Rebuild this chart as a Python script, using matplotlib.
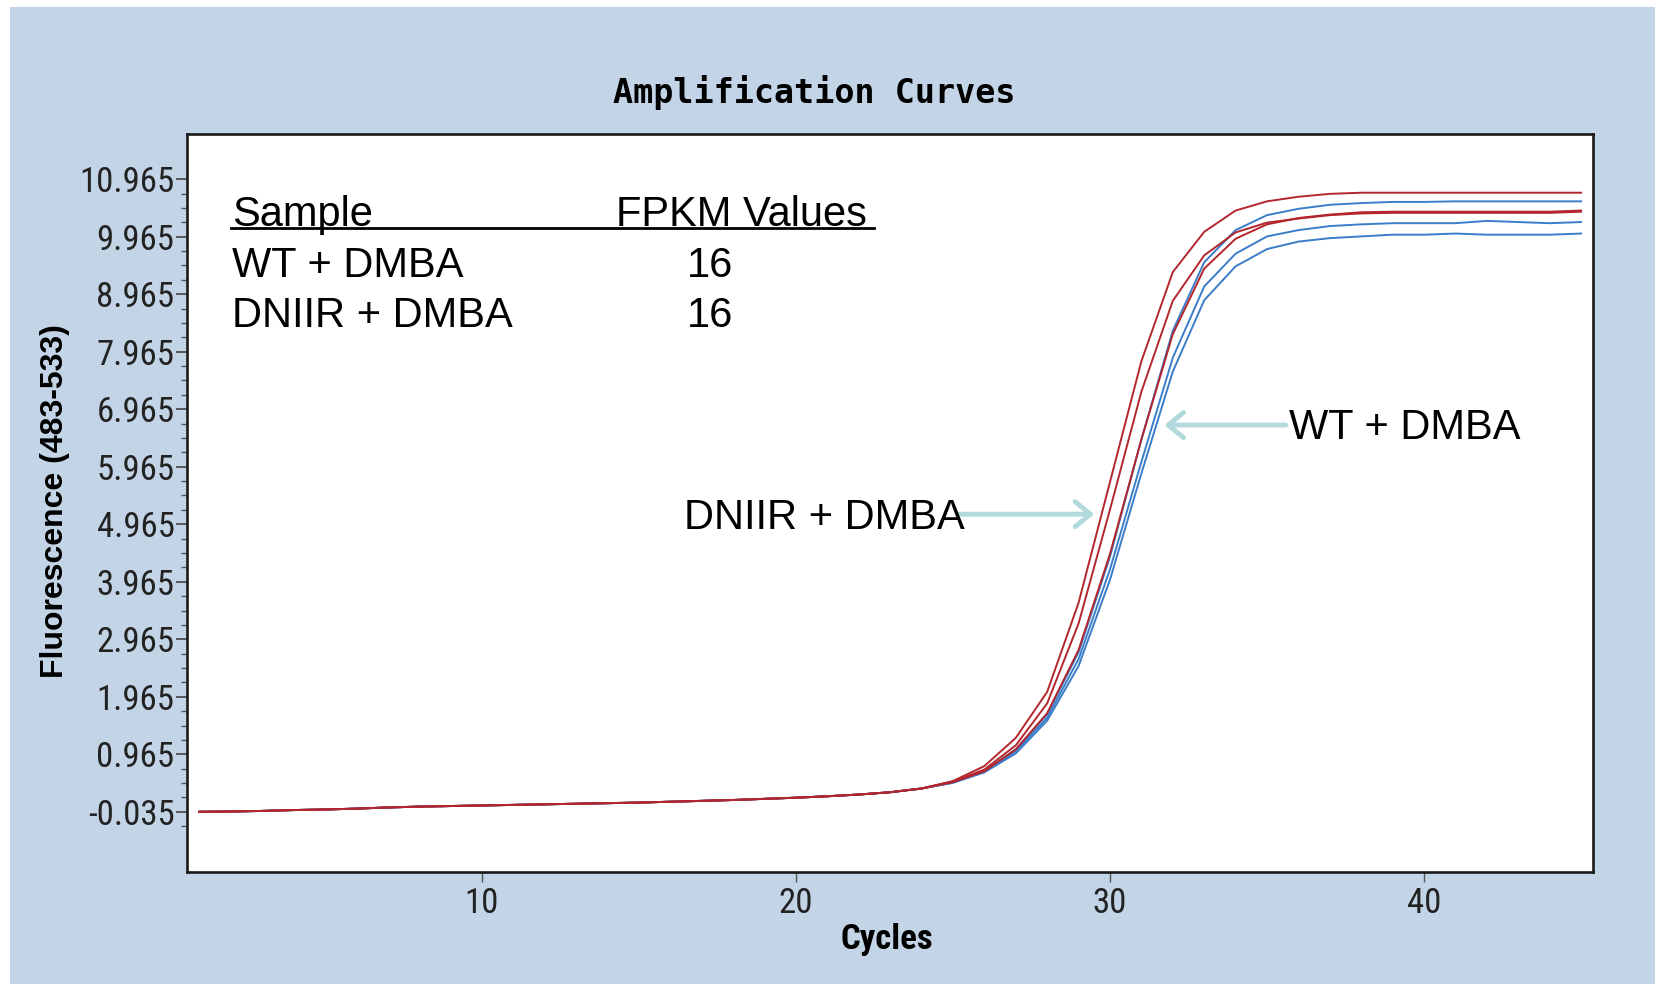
import numpy as np
import matplotlib
matplotlib.use("Agg")
import matplotlib.pyplot as plt
from matplotlib.patches import Rectangle
from matplotlib.lines import Line2D
from matplotlib.ticker import FixedLocator, FormatStrFormatter
from matplotlib import font_manager

# cycle numbers and the shared flat baseline (cycles 1-24)
cycles = np.arange(1, 46)
baseline = [-0.035, -0.030, -0.020, -0.005, 0.005, 0.020, 0.040, 0.055,
            0.065, 0.075, 0.085, 0.095, 0.105, 0.115, 0.125, 0.140,
            0.155, 0.170, 0.190, 0.210, 0.235, 0.265, 0.305, 0.370]

# rise + plateau, cycles 25-45
dniir_1 = [0.50, 0.76, 1.25, 2.05, 3.60, 5.70, 7.80, 9.35, 10.05, 10.42, 10.58,
           10.66, 10.71, 10.73, 10.73, 10.73, 10.73, 10.73, 10.73, 10.73, 10.73]
dniir_2 = [0.49, 0.70, 1.12, 1.85, 3.24, 5.22, 7.27, 8.85, 9.64, 10.04, 10.21,
           10.28, 10.34, 10.37, 10.38, 10.38, 10.38, 10.38, 10.38, 10.38, 10.40]
dniir_3 = [0.48, 0.67, 1.05, 1.68, 2.78, 4.45, 6.44, 8.27, 9.41, 9.93, 10.18,
           10.29, 10.35, 10.39, 10.40, 10.40, 10.40, 10.40, 10.40, 10.40, 10.42]
wt_1 = [0.48, 0.67, 1.05, 1.66, 2.74, 4.40, 6.44, 8.33, 9.52, 10.08, 10.34,
        10.45, 10.52, 10.55, 10.57, 10.57, 10.58, 10.58, 10.58, 10.58, 10.58]
wt_2 = [0.47, 0.66, 1.02, 1.60, 2.62, 4.18, 6.05, 7.86, 9.10, 9.67, 9.97,
        10.08, 10.15, 10.18, 10.20, 10.20, 10.20, 10.24, 10.22, 10.20, 10.22]
wt_3 = [0.47, 0.65, 0.98, 1.55, 2.50, 4.00, 5.85, 7.62, 8.86, 9.45, 9.75,
        9.88, 9.94, 9.97, 10.00, 10.00, 10.02, 10.00, 10.00, 10.00, 10.02]

y_major = [-0.035, 0.965, 1.965, 2.965, 3.965, 4.965, 5.965,
           6.965, 7.965, 8.965, 9.965, 10.965]
x_major = [10, 20, 30, 40]

table_rows = [("WT + DMBA", "16"), ("DNIIR + DMBA", "16")]

W, H = 1655, 984
PANEL = "#c2d4e5"
RED = "#b3262d"
BLUE = "#3a7dc9"
ARROW = "#b2d9dc"
ARIAL = ["Liberation Sans", "DejaVu Sans"]

# pick a condensed face if one is installed
names = {f.name for f in font_manager.fontManager.ttflist}
NARROW = [n for n in ["Liberation Sans Narrow", "DejaVu Sans Condensed",
                      "Roboto Condensed"] if n in names] + ["DejaVu Sans"]

fig = plt.figure(figsize=(W / 100, H / 100), dpi=100)
fig.patch.set_facecolor("white")
fig.patches.append(Rectangle((10 / W, 0), 1, 1 - 7 / H, transform=fig.transFigure,
                             facecolor=PANEL, edgecolor="none", zorder=-5))

ax = fig.add_axes([187 / W, 1 - 872 / H, (1593 - 187) / W, (872 - 134) / H])
ax.set_facecolor("white")

for run in [wt_1, wt_2, wt_3]:
    ax.plot(cycles, baseline + run, color=BLUE, lw=1.4, zorder=2)
for run in [dniir_1, dniir_2, dniir_3]:
    ax.plot(cycles, baseline + run, color=RED, lw=1.4, zorder=3)

ax.set_xlim(0.61, 45.38)
ax.set_ylim(-1.082, 11.751)

ax.yaxis.set_major_locator(FixedLocator(y_major))
ax.yaxis.set_minor_locator(FixedLocator(np.arange(-0.285, 10.97, 0.25)))
ax.yaxis.set_major_formatter(FormatStrFormatter("%.3f"))
ax.xaxis.set_major_locator(FixedLocator(x_major))
ax.tick_params(axis="y", which="major", direction="out", length=8, width=1.2,
               color="#444444", pad=1, labelsize=25, labelcolor="#222222")
ax.tick_params(axis="y", which="minor", direction="out", length=4.5, width=1.0,
               color="#555555")
ax.tick_params(axis="x", which="major", direction="out", length=7, width=1.0,
               color="#555555", pad=4, labelsize=25, labelcolor="#222222")
for lab in ax.get_xticklabels() + ax.get_yticklabels():
    lab.set_family(NARROW)
    lab.set_stretch("condensed")
for sp in ax.spines.values():
    sp.set_linewidth(1.9)
    sp.set_color("#1a1a1a")

fig.text(814 / W, 1 - 93 / H, "Amplification Curves", ha="center", va="center",
         fontsize=24, fontweight="bold", family="DejaVu Sans Mono")
fig.text(887 / W, 1 - 940 / H, "Cycles", ha="center", va="center",
         fontsize=25, fontweight="bold", family=NARROW, stretch="condensed")
fig.text(55 / W, 1 - 501 / H, "Fluorescence (483-533)", ha="center", va="center",
         rotation=90, fontsize=23, fontweight="bold", family=ARIAL)

# sample table in upper left
fig.text(232 / W, 1 - 215 / H, "Sample", ha="left", va="center", fontsize=30, family=ARIAL)
fig.text(616 / W, 1 - 215 / H, "FPKM Values", ha="left", va="center", fontsize=30, family=ARIAL)
fig.lines.append(Line2D([231 / W, 874 / W], [1 - 228 / H, 1 - 228 / H],
                        transform=fig.transFigure, color="black", lw=2))
for i, (name, val) in enumerate(table_rows):
    yy = 1 - (266 + 50 * i) / H
    fig.text(232 / W, yy, name, ha="left", va="center", fontsize=30, family=ARIAL)
    fig.text(710 / W, yy, val, ha="center", va="center", fontsize=30, family=ARIAL)

# arrows pointing at the two groups
arrow = dict(arrowstyle="->,head_length=0.55,head_width=0.45", color=ARROW, lw=3.5,
             mutation_scale=20, shrinkA=0, shrinkB=0)
ax.annotate("", xy=(31.73, 6.69), xytext=(35.6, 6.69), arrowprops=arrow, zorder=4)
ax.text(35.7, 6.63, "WT + DMBA", ha="left", va="center", fontsize=30, family=ARIAL, zorder=5)
ax.annotate("", xy=(29.5, 5.14), xytext=(25.2, 5.14), arrowprops=arrow, zorder=4)
ax.text(16.45, 5.08, "DNIIR + DMBA", ha="left", va="center", fontsize=30, family=ARIAL, zorder=5)

plt.savefig("out.png", dpi=100)
